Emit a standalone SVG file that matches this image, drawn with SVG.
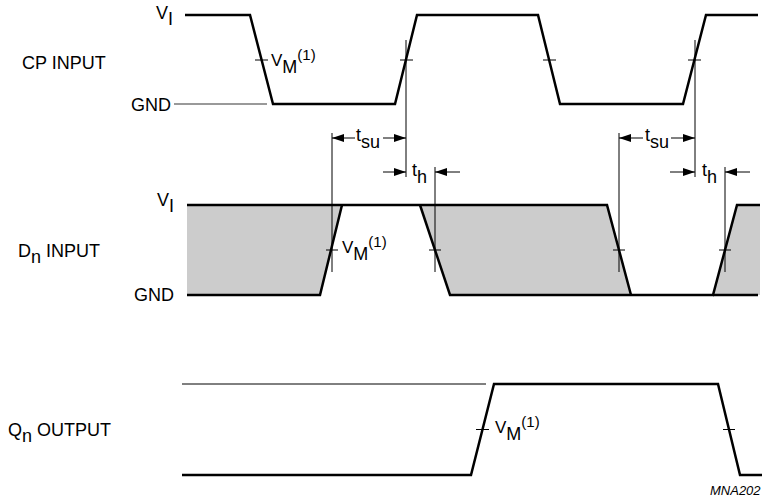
<svg xmlns="http://www.w3.org/2000/svg" width="764" height="501" viewBox="0 0 764 501">
<style>
text{font-family:"Liberation Sans",Arial,sans-serif;font-size:18px;fill:#000}
.w{fill:none;stroke:#000;stroke-width:2.5;stroke-linejoin:miter}
.t{fill:none;stroke:#000;stroke-width:1}
.g{fill:none;stroke:#777;stroke-width:1.3}
.sh{fill:#cccccc;stroke:none}
.sup{font-size:15px}
.v{font-size:17px}
.mk{font-size:13px;font-style:italic}
</style>
<defs>
<marker id="ah" viewBox="0 0 12 8" refX="12" refY="4" markerWidth="12" markerHeight="8" markerUnits="userSpaceOnUse" orient="auto">
<path d="M0,0 L12,4 L0,8 Z" fill="#000"/>
</marker>
</defs>
<rect width="764" height="501" fill="#fff"/>

<g id="labels">
<text x="22" y="69">CP INPUT</text>
<text x="18" y="257">D<tspan dy="6">n</tspan><tspan dy="-6"> INPUT</tspan></text>
<text x="8" y="436">Q<tspan dy="6">n</tspan><tspan dy="-6"> OUTPUT</tspan></text>
<text x="156" y="19">V<tspan dy="6">I</tspan></text>
<text x="131" y="111">GND</text>
<text x="157" y="206">V<tspan dy="6">I</tspan></text>
<text x="134" y="301">GND</text>
<text class="mk" x="710" y="495">MNA202</text>
</g>

<g id="cp-input">
<path class="g" d="M174,104 H267"/>
<path class="w" d="M185,15 H250 L273,104 H395 L417,15 H538 L560,104 H683 L706,15 H758"/>
<path class="t" d="M255,60 H268 M400,60 H413 M543,60 H556 M688,60 H701"/>
<text x="271" y="66"><tspan class="v">V</tspan><tspan dy="7">M</tspan><tspan class="sup" dy="-13">(1)</tspan></text>
</g>

<g id="dn-input">
<polygon class="sh" points="187,205 342,205 320,295 187,295"/>
<polygon class="sh" points="420,205 607,205 631,295 450,295"/>
<polygon class="sh" points="737,205 760,205 760,295 713,295"/>
<path class="w" d="M187,205 H607 L631,295"/>
<path class="w" d="M187,295 H320 L342,205"/>
<path class="w" d="M420,205 L450,295 H713 L737,205 H760"/>
<path class="w" d="M713,295 H758"/>
<path class="t" d="M326,250 H338 M429,250 H441 M613,250 H625 M719,250 H731"/>
<text x="342" y="253"><tspan class="v">V</tspan><tspan dy="7">M</tspan><tspan class="sup" dy="-13">(1)</tspan></text>
</g>

<g id="qn-output">
<path class="t" d="M182,384 H486"/>
<path class="w" d="M182,475 H471 L494,384 H718 L740,475 H762"/>
<path class="t" d="M476,429.5 H489 M723,429.5 H735"/>
<text x="495" y="433"><tspan class="v">V</tspan><tspan dy="7">M</tspan><tspan class="sup" dy="-13">(1)</tspan></text>
</g>

<g id="connectors">
<path class="t" d="M406,40 V177 M695,40 V177"/>
<path class="t" d="M332,133 V272 M435,167 V272 M619,133 V272 M725,167 V272"/>
<path class="t" marker-end="url(#ah)" d="M355,138 H332"/>
<path class="t" marker-end="url(#ah)" d="M383,138 H406"/>
<path class="t" marker-end="url(#ah)" d="M383,172 H406"/>
<path class="t" marker-end="url(#ah)" d="M460,172 H435"/>
<path class="t" marker-end="url(#ah)" d="M643,138 H619"/>
<path class="t" marker-end="url(#ah)" d="M671,138 H695"/>
<path class="t" marker-end="url(#ah)" d="M670,172 H695"/>
<path class="t" marker-end="url(#ah)" d="M750,172 H725"/>
<text x="356" y="141">t<tspan dy="7">su</tspan></text>
<text x="412" y="176">t<tspan dy="7">h</tspan></text>
<text x="645" y="141">t<tspan dy="7">su</tspan></text>
<text x="702" y="176">t<tspan dy="7">h</tspan></text>
</g>
</svg>
